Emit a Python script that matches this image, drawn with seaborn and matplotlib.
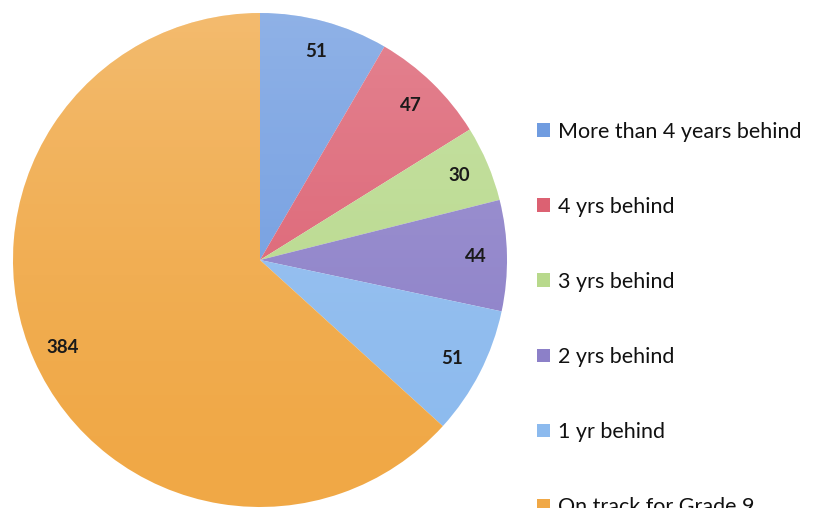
import numpy as np
import matplotlib
matplotlib.use("Agg")
import matplotlib.pyplot as plt
import seaborn as sns
from matplotlib.patches import Circle

sns.set_theme(style="white")
plt.rcParams["font.family"] = ["Lato", "DejaVu Sans"]

# Students by how far behind grade level they are
categories = [
    "More than 4 years behind",
    "4 yrs behind",
    "3 yrs behind",
    "2 yrs behind",
    "1 yr behind",
    "On track for Grade 9",
]
counts = [51, 47, 30, 44, 51, 384]
colors = ["#709ce0", "#dc6172", "#b8d98c", "#8c80c8", "#8cbaee", "#f0a846"]

fig = plt.figure(figsize=(8.15, 5.08), dpi=100)
fig.patch.set_facecolor("white")

ax = fig.add_axes([13 / 815, 1 / 508, 494 / 815, 494 / 508])
wedges, texts, autotexts = ax.pie(
    counts,
    colors=colors,
    startangle=90,
    counterclock=False,
    radius=1.0,
    autopct=lambda p: f"{round(p * sum(counts) / 100):d}",
    pctdistance=0.875,
    wedgeprops=dict(linewidth=0),
    textprops=dict(fontsize=13.5, fontweight="bold", color="#1a1a1a"),
)
ax.set_xlim(-1, 1)
ax.set_ylim(-1, 1)
ax.set_aspect("equal")
ax.axis("off")

# soft glossy shading: lighter toward the top of the disc
grad = np.linspace(1, 0, 256).reshape(-1, 1)
shade = np.zeros((256, 1, 4))
shade[..., :3] = 1.0
shade[..., 3] = 0.22 * grad ** 1.5
im = ax.imshow(shade, extent=[-1, 1, -1, 1], origin="upper", aspect="auto", zorder=3)
im.set_clip_path(Circle((0, 0), 1.0, transform=ax.transData))
for t in autotexts:
    t.set_zorder(5)

leg = fig.legend(
    wedges,
    categories,
    loc="upper left",
    bbox_to_anchor=(528 / 815, 1 - 113 / 508),
    frameon=False,
    fontsize=15.5,
    handlelength=0.6,
    handleheight=0.6,
    handletextpad=0.4,
    labelspacing=2.56,
    borderaxespad=0,
)
for txt in leg.get_texts():
    txt.set_color("#111111")

fig.savefig("out.png", dpi=100, facecolor="white")
